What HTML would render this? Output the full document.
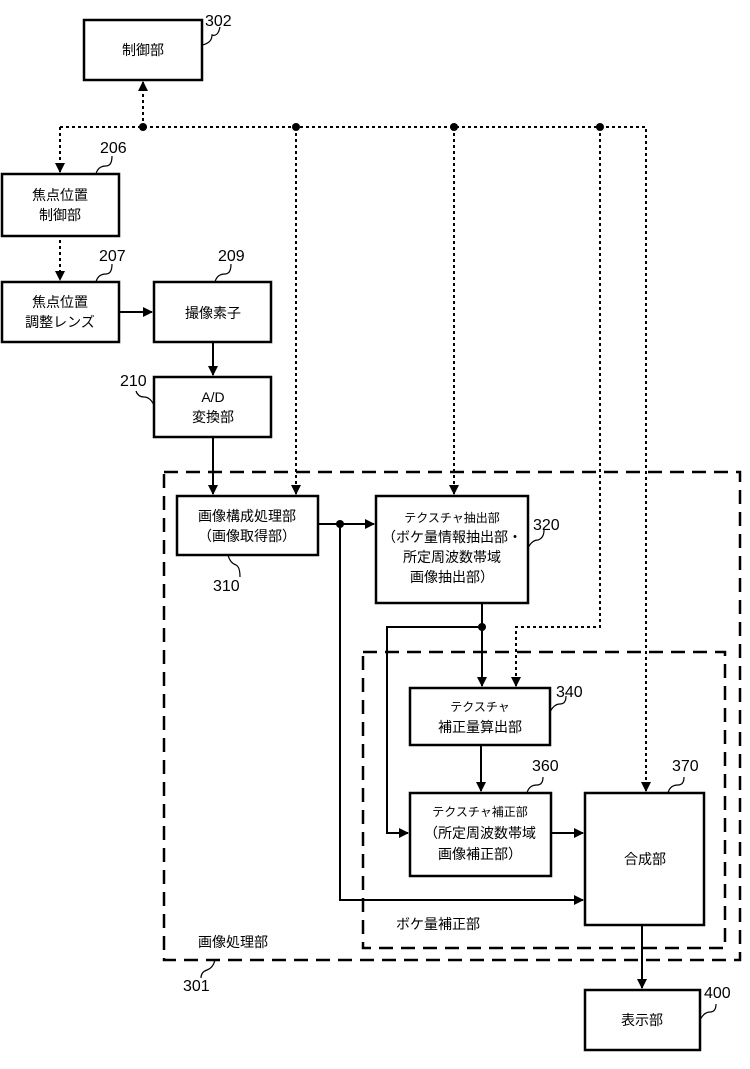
<!DOCTYPE html>
<html><head><meta charset="utf-8"><style>
html,body{margin:0;padding:0;background:#fff}
text{font-family:"Liberation Sans","Noto Sans CJK JP",sans-serif;fill:#000}
.b{fill:#fff;stroke:#000;stroke-width:2.5}
.l{stroke:#000;stroke-width:2;fill:none}
.d{stroke:#000;stroke-width:2;fill:none;stroke-dasharray:3,3}
.dd{stroke:#000;stroke-width:2.5;fill:none;stroke-dasharray:14,8}
.t{font-size:14px;text-anchor:middle}
.n{font-size:16px}
</style></head><body>
<svg width="750" height="1064" xmlns="http://www.w3.org/2000/svg">
<defs><marker id="a" markerWidth="10" markerHeight="10" refX="9" refY="5" orient="auto" markerUnits="userSpaceOnUse"><path d="M0,0 L10,5 L0,10z" fill="#000"/></marker></defs>
<!-- dashed regions -->
<rect class="dd" x="164" y="472" width="576" height="488"/>
<rect class="dd" x="363" y="652" width="362" height="296"/>
<!-- dotted bus -->
<path class="d" d="M60,127 H646 V791" marker-end="url(#a)"/>
<path class="d" d="M60,127 V172" marker-end="url(#a)"/>
<path class="d" d="M143,127 V82" marker-end="url(#a)"/>
<path class="d" d="M296,127 V494" marker-end="url(#a)"/>
<path class="d" d="M454,127 V494" marker-end="url(#a)"/>
<path class="d" d="M600,127 V627 H516 V686" marker-end="url(#a)"/>
<path class="d" d="M60,240 V280" marker-end="url(#a)"/>
<g fill="#000"><circle cx="143" cy="127" r="4"/><circle cx="296" cy="127" r="4"/><circle cx="454" cy="127" r="4"/><circle cx="600" cy="127" r="4"/><circle cx="340" cy="524" r="4"/><circle cx="482" cy="627" r="4"/></g>
<!-- solid connectors -->
<path class="l" d="M119,312 H152" marker-end="url(#a)"/>
<path class="l" d="M213,342 V375" marker-end="url(#a)"/>
<path class="l" d="M213,437 V494" marker-end="url(#a)"/>
<path class="l" d="M318,524 H374" marker-end="url(#a)"/>
<path class="l" d="M340,524 V900 H583" marker-end="url(#a)"/>
<path class="l" d="M482,603 V686" marker-end="url(#a)"/>
<path class="l" d="M482,627 H387 V833 H408" marker-end="url(#a)"/>
<path class="l" d="M481,745 V791" marker-end="url(#a)"/>
<path class="l" d="M551,833 H583" marker-end="url(#a)"/>
<path class="l" d="M642,925 V988" marker-end="url(#a)"/>
<!-- boxes -->
<rect class="b" x="84" y="20" width="118" height="60"/>
<text class="t" x="143" y="55">制御部</text>
<rect class="b" x="2" y="174" width="117" height="62"/>
<text class="t" x="60" y="200">焦点位置</text><text class="t" x="60" y="220">制御部</text>
<rect class="b" x="2" y="282" width="117" height="60"/>
<text class="t" x="60" y="307">焦点位置</text><text class="t" x="60" y="327">調整レンズ</text>
<rect class="b" x="154" y="282" width="117" height="60"/>
<text class="t" x="213" y="318">撮像素子</text>
<rect class="b" x="154" y="377" width="117" height="60"/>
<text class="t" x="213" y="402">A/D</text><text class="t" x="213" y="422">変換部</text>
<rect class="b" x="177" y="496" width="141" height="59"/>
<text class="t" x="247" y="521">画像構成処理部</text><text class="t" x="247" y="541">（画像取得部）</text>
<rect class="b" x="376" y="496" width="152" height="107"/>
<text class="t" x="452" y="522" style="font-size:12px">テクスチャ抽出部</text>
<text class="t" x="452" y="542">（ボケ量情報抽出部・</text>
<text class="t" x="452" y="562">所定周波数帯域</text>
<text class="t" x="452" y="582">画像抽出部）</text>
<rect class="b" x="410" y="688" width="140" height="57"/>
<text class="t" x="480" y="711" style="font-size:12px">テクスチャ</text><text class="t" x="480" y="732">補正量算出部</text>
<rect class="b" x="410" y="793" width="141" height="83"/>
<text class="t" x="480" y="816" style="font-size:12px">テクスチャ補正部</text>
<text class="t" x="480" y="838">（所定周波数帯域</text>
<text class="t" x="480" y="859">画像補正部）</text>
<rect class="b" x="585" y="793" width="119" height="132"/>
<text class="t" x="645" y="864">合成部</text>
<rect class="b" x="585" y="990" width="115" height="60"/>
<text class="t" x="642" y="1025">表示部</text>
<text class="t" x="233" y="947">画像処理部</text>
<text class="t" x="438" y="929">ボケ量補正部</text>
<!-- ref numbers -->
<g class="n">
<text x="205" y="26">302</text><text x="100" y="153">206</text><text x="99" y="261">207</text>
<text x="218" y="261">209</text><text x="120" y="386">210</text><text x="213" y="591">310</text>
<text x="533" y="530">320</text><text x="556" y="697">340</text><text x="532" y="771">360</text>
<text x="672" y="771">370</text><text x="704" y="998">400</text><text x="183" y="991">301</text>
</g>
<g class="l" style="stroke-width:1.2">
<path d="M202,45 q10,-2 10,-10 q6,2 8,-8"/>
<path d="M96,174 q2,-8 10,-8 q6,0 6,-10"/>
<path d="M96,282 q2,-8 10,-8 q6,0 6,-10"/>
<path d="M215,282 q2,-8 10,-8 q6,0 6,-10"/>
<path d="M154,405 q-4,-8 -10,-8 q-6,0 -8,-6"/>
<path d="M228,555 q2,8 8,10 q4,2 4,12"/>
<path d="M528,548 q4,-8 10,-8 q6,-2 6,-10"/>
<path d="M550,712 q4,-8 10,-8 q6,0 6,-8"/>
<path d="M527,793 q2,-8 10,-8 q6,0 6,-8"/>
<path d="M668,793 q2,-8 10,-8 q6,0 6,-8"/>
<path d="M700,1020 q4,-8 10,-8 q6,0 6,-8"/>
<path d="M215,960 q-2,8 -8,10 q-6,2 -6,8"/>
</g>
</svg>
</body></html>
